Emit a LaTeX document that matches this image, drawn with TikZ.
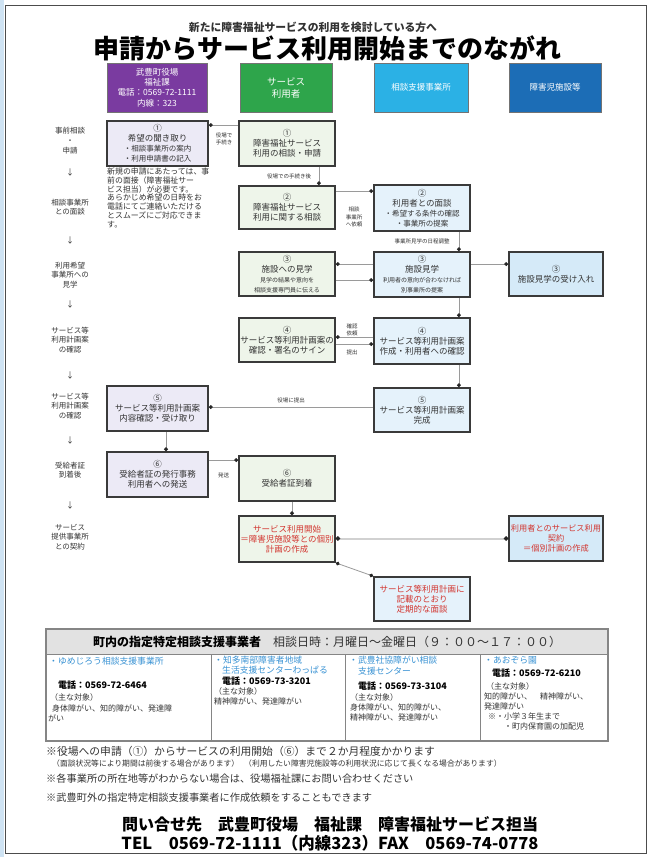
\documentclass[tikz,border=0pt]{standalone}
\usepackage{fontspec}
\setmainfont{Noto Sans CJK JP}
\usetikzlibrary{arrows.meta}
\definecolor{bline}{HTML}{3A3A3A}
\definecolor{ofill}{HTML}{ECEAF6}
\definecolor{ufill}{HTML}{EEF5EA}
\definecolor{cfill}{HTML}{E5F2FB}
\definecolor{ffill}{HTML}{D5EAF8}
\definecolor{hpurple}{HTML}{7A3BA0}
\definecolor{hgreen}{HTML}{2EA54B}
\definecolor{hcyan}{HTML}{2BB1E5}
\definecolor{hblue}{HTML}{1C6DB6}
\definecolor{cline}{HTML}{9A9A9A}
\definecolor{redtxt}{HTML}{D2352F}
\definecolor{bluetxt}{HTML}{3A93D4}
\definecolor{txt}{HTML}{333333}
\definecolor{tgray}{HTML}{E2E2E2}
\definecolor{tline}{HTML}{858585}
\definecolor{edgeblue}{HTML}{CFE3F3}
\newcommand\fz[2]{\fontsize{#1}{#2}\selectfont}
\begin{document}
\begin{tikzpicture}[x=1pt,y=-1pt,
  hdr/.style={draw=black!55, line width=0.8pt, text=white, align=center, inner sep=0pt},
  bx/.style={draw=bline, line width=1.8pt, align=center, inner sep=1pt, text=txt, font=\fz{8.5}{10}},
  ob/.style={bx, fill=ofill, minimum width=101pt},
  ub/.style={bx, fill=ufill, minimum width=96pt},
  cb/.style={bx, fill=cfill, minimum width=96pt},
  fb/.style={bx, fill=ffill, minimum width=94pt},
  conn/.style={cline, line width=0.8pt, -{Circle[length=3.8pt, color=black!85]}},
  conntwo/.style={black!18, line width=2pt, {Circle[length=4pt,color=black!85]}-{Circle[length=4pt,color=black!85]}},
  lbl/.style={font=\fz{5.5}{7}, align=center, text=txt, inner sep=0pt},
  side/.style={font=\fz{7.5}{9.3}, align=center, text=txt, inner sep=0pt},
  down/.style={font=\fz{8}{9}, text=txt, inner sep=0pt},
  tt/.style={anchor=west, inner sep=0pt, text=txt, font=\fz{8}{10}},
  tblue/.style={tt, text=bluetxt, font=\fz{8.8}{10}},
  tbold/.style={tt, text=black, font=\fz{9}{10}\bfseries},
  note/.style={anchor=west, inner sep=0pt, text=txt, font=\fz{10.2}{11}}
]
\useasboundingbox (0,0) rectangle (651,857);
\fill[white] (0,0) rectangle (651,857);
\fill[edgeblue] (0,0) rectangle (4,857);
\draw[black!70, line width=1pt] (5,5) rectangle (646,853);

% titles
\node[inner sep=0pt, font=\fz{10.8}{12}\bfseries, text=txt] (sub) at (313,27) {新たに障害福祉サービスの利用を検討している方へ};
\node[inner sep=0pt, font=\fz{26}{28}\bfseries, text=black] (title) at (327,48) {申請からサービス利用開始までのながれ};

% column headers
\node[hdr, fill=hpurple, minimum width=100pt, minimum height=49pt, font=\fz{8.5}{10.3}] (hp) at (157,87.5) {武豊町役場\\福祉課\\電話：0569-72-1111\\内線：323};
\node[hdr, fill=hgreen, minimum width=92pt, minimum height=49pt, font=\fz{9.5}{12}] (hg) at (286,87.5) {サービス\\利用者};
\node[hdr, fill=hcyan, minimum width=94pt, minimum height=49pt, font=\fz{8.5}{10}] (hc) at (421,87.5) {相談支援事業所};
\node[hdr, fill=hblue, minimum width=92pt, minimum height=49pt, font=\fz{8.5}{10}] (hb) at (555,87.5) {障害児施設等};

% left step labels
\node[side, font=\fz{7.5}{10}] (s1) at (70,141) {事前相談\\・\\申請};
\node[down] (d1) at (70,172) {↓};
\node[side] (s2) at (70,207) {相談事業所\\との面談};
\node[down] (d2) at (70,240) {↓};
\node[side] (s3) at (70,275) {利用希望\\事業所への\\見学};
\node[down] (d3) at (70,304) {↓};
\node[side] (s4) at (70,340) {サービス等\\利用計画案\\の確認};
\node[down] (d4) at (70,375) {↓};
\node[side] (s5) at (70,406) {サービス等\\利用計画案\\の確認};
\node[down] (d5) at (70,440) {↓};
\node[side] (s6) at (70,470) {受給者証\\到着後};
\node[down] (d6) at (70,505) {↓};
\node[side] (s7) at (70,537) {サービス\\提供事業所\\との契約};

% boxes
\node[ob, minimum height=45pt] (o1) at (157.5,143.5) {①\\希望の聞き取り\\{\fz{7.5}{9}・相談事業所の案内}\\{\fz{7.5}{9}・利用申請書の記入}};
\node[ub, minimum height=45pt] (u1) at (287,143.5) {①\\障害福祉サービス\\利用の相談・申請};
\node[ub, minimum height=43pt] (u2) at (287,207.5) {②\\障害福祉サービス\\利用に関する相談};
\node[cb, minimum height=46pt] (c2) at (422,208) {②\\利用者との面談\\{\fz{7.5}{9}・希望する条件の確認}\\{\fz{7.5}{9}・事業所の提案}};
\node[ub, minimum height=44pt] (u3) at (287,274) {③\\施設への見学\\{\fz{6}{7.5}見学の結果や意向を}\\{\fz{6}{7.5}相談支援専門員に伝える}};
\node[cb, minimum height=45pt] (c3) at (422,274.5) {③\\施設見学\\{\fz{6}{7.5}利用者の意向が合わなければ}\\{\fz{6}{7.5}別事業所の提案}};
\node[fb, minimum height=44pt] (f3) at (556,274) {③\\施設見学の受け入れ};
\node[ub, minimum height=44pt] (u4) at (287,340) {④\\サービス等利用計画案の\\確認・署名のサイン};
\node[cb, minimum height=46pt] (c4) at (422,341) {④\\サービス等利用計画案\\作成・利用者への確認};
\node[cb, minimum height=44pt] (c5) at (422,410) {⑤\\サービス等利用計画案\\完成};
\node[ob, minimum height=45pt] (o5) at (157.5,408.5) {⑤\\サービス等利用計画案\\内容確認・受け取り};
\node[ob, minimum height=45pt] (o6) at (157.5,474.5) {⑥\\受給者証の発行事務\\利用者への発送};
\node[ub, minimum height=45pt] (u6) at (287,478.5) {⑥\\受給者証到着};
\node[ub, minimum height=46pt, text=redtxt] (us) at (287,539) {サービス利用開始\\＝障害児施設等との個別\\計画の作成};
\node[fb, minimum height=45pt, text=redtxt, font=\fz{8.2}{10}] (fc) at (556,538.5) {利用者とのサービス利用\\契約\\＝個別計画の作成};
\node[cb, minimum height=44pt, text=redtxt] (cp) at (422,599) {サービス等利用計画に\\記載のとおり\\定期的な面談};

% note under office 1
\node[anchor=north west, inner sep=0pt, align=left, text=txt, font=\fz{7.9}{8.7}] (n1) at (107,168) {新規の申請にあたっては、事\\前の面接（障害福祉サー\\ビス担当）が必要です。\\あらかじめ希望の日時をお\\電話にてご連絡いただける\\とスムーズにご対応できま\\す。};

% connectors
\draw[conn] ([yshift=-5pt]u1.north west) -- ([yshift=-5pt]u1.north west -| o1.east);
\node[lbl] (l1) at (224,139) {役場で\\手続き};
\draw[conn] ([xshift=-17pt]u1.south east) -- ([xshift=-17pt]u1.south east |- u2.north);
\node[lbl] (l2) at (289,176) {役場での手続き後};
\draw[conn] ([yshift=-6pt]u2.north east) -- ([yshift=-6pt]u2.north east -| c2.west);
\node[lbl, font=\fz{5.5}{7.8}] (l3) at (354,217) {相談\\事業所\\へ依頼};
\draw[conn] ([xshift=-12pt]c2.south east) -- ([xshift=-12pt]c2.south east |- c3.north);
\node[lbl] (l4) at (422,241.5) {事業所見学の日程調整};
\draw[conn] ([yshift=-13pt]c3.north east) -- ([yshift=-13pt]c3.north east -| f3.west);
\draw[conn] ([yshift=-13pt]c3.north west) -- ([yshift=-13pt]c3.north west -| u3.east);
\draw[conn] ([yshift=-29pt]u3.north east) -- ([yshift=-29pt]u3.north east -| c3.west);
\draw[conn] ([xshift=-12pt]c3.south east) -- ([xshift=-12pt]c3.south east |- c4.north);
\draw[conn] ([yshift=-20pt]c4.north west) -- ([yshift=-20pt]c4.north west -| u4.east);
\draw[conn] ([yshift=-27pt]u4.north east) -- ([yshift=-27pt]u4.north east -| c4.west);
\node[lbl] (l5) at (352,330) {確認\\依頼};
\node[lbl] (l6) at (352,352) {提出};
\draw[conn] ([xshift=-12pt]c4.south east) -- ([xshift=-12pt]c4.south east |- c5.north);
\draw[conn] ([yshift=-20pt]c5.north west) -- ([yshift=-20pt]c5.north west -| o5.east);
\node[lbl] (l7) at (291,400) {役場に提出};
\draw[conn] ([xshift=8.5pt]o5.south) -- ([xshift=8.5pt]o5.south |- o6.north);
\draw[conn] ([yshift=-9pt]o6.north east) -- ([yshift=-9pt]o6.north east -| u6.west);
\node[lbl] (l8) at (223.5,475) {発送};
\draw[conn] ([xshift=5pt]u6.south) -- ([xshift=5pt]u6.south |- us.north);
\draw[conntwo] (fc.west) -- (fc.west -| us.east);
\draw[conn, {Circle[length=3.8pt,color=black!85]}-{Circle[length=3.8pt,color=black!85]}] (us.south east) -- (cp.north west);

% table
\fill[tgray] (46,629) rectangle (608,654);
\draw[tline, line width=1.2pt] (46,629) rectangle (608,741);
\draw[tline, line width=1pt] (46,654) -- (608,654);
\draw[tline, line width=1pt] (211,654) -- (211,741);
\draw[tline, line width=1pt] (345,654) -- (345,741);
\draw[tline, line width=1pt] (480,654) -- (480,741);
\node[inner sep=0pt, font=\fz{12}{14}, text=txt] (th) at (327,641.5) {{\bfseries\color{black}町内の指定特定相談支援事業者}\hspace{12pt}相談日時：月曜日～金曜日（９：００～１７：００）};

\node[tblue] (a1) at (49,661) {・ゆめじろう相談支援事業所};
\node[tbold] (a2) at (58,685) {電話：0569-72-6464};
\node[tt] (a3) at (50,697) {（主な対象）};
\node[tt] (a4) at (52,708) {身体障がい、知的障がい、発達障};
\node[tt] (a5) at (48,718) {がい};

\node[tblue] (b1) at (214,660) {・知多南部障害者地域};
\node[tblue] (b2) at (222,670) {生活支援センターわっぱる};
\node[tbold] (b3) at (222,681) {電話：0569-73-3201};
\node[tt] (b4) at (214,691) {（主な対象）};
\node[tt] (b5) at (214,701) {精神障がい、発達障がい};

\node[tblue] (c1t) at (349,660) {・武豊社協障がい相談};
\node[tblue] (c2t) at (358,671) {支援センター};
\node[tbold] (c3t) at (358,686) {電話：0569-73-3104};
\node[tt] (c4t) at (350,697) {（主な対象）};
\node[tt] (c5t) at (350,707) {身体障がい、知的障がい、};
\node[tt] (c6t) at (350,717) {精神障がい、発達障がい};

\node[tblue] (e1) at (484,660) {・あおぞら園};
\node[tbold] (e2) at (492,673) {電話：0569-72-6210};
\node[tt] (e3) at (486,686) {（主な対象）};
\node[tt] (e4) at (484,696) {知的障がい、　精神障がい、};
\node[tt] (e5) at (484,706) {発達障がい};
\node[tt] (e6) at (488,716) {※・小学３年生まで};
\node[tt] (e7) at (504,726) {・町内保育園の加配児};

% notes
\node[note, font=\fz{10.8}{12}] (m1) at (46,751) {※役場への申請（①）からサービスの利用開始（⑥）まで２か月程度かかります};
\node[note, font=\fz{7.8}{8.5}] (m2a) at (52,763.5) {（面談状況等により期間は前後する場合があります）};
\node[note, font=\fz{7.8}{8.5}] (m2b) at (244,763.5) {（利用したい障害児施設等の利用状況に応じて長くなる場合があります）};
\node[note] (m3) at (46,779) {※各事業所の所在地等がわからない場合は、役場福祉課にお問い合わせください};
\node[note] (m4) at (46,798) {※武豊町外の指定特定相談支援事業者に作成依頼をすることもできます};

\node[inner sep=0pt, font=\fz{16}{18}\bfseries, text=black] (f1) at (330,824) {問い合せ先　武豊町役場　福祉課　障害福祉サービス担当};
\node[inner sep=0pt, font=\fz{16.5}{18}\bfseries, text=black] (f2) at (330,843) {TEL　0569-72-1111（内線323）FAX　0569-74-0778};
\end{tikzpicture}
\end{document}
